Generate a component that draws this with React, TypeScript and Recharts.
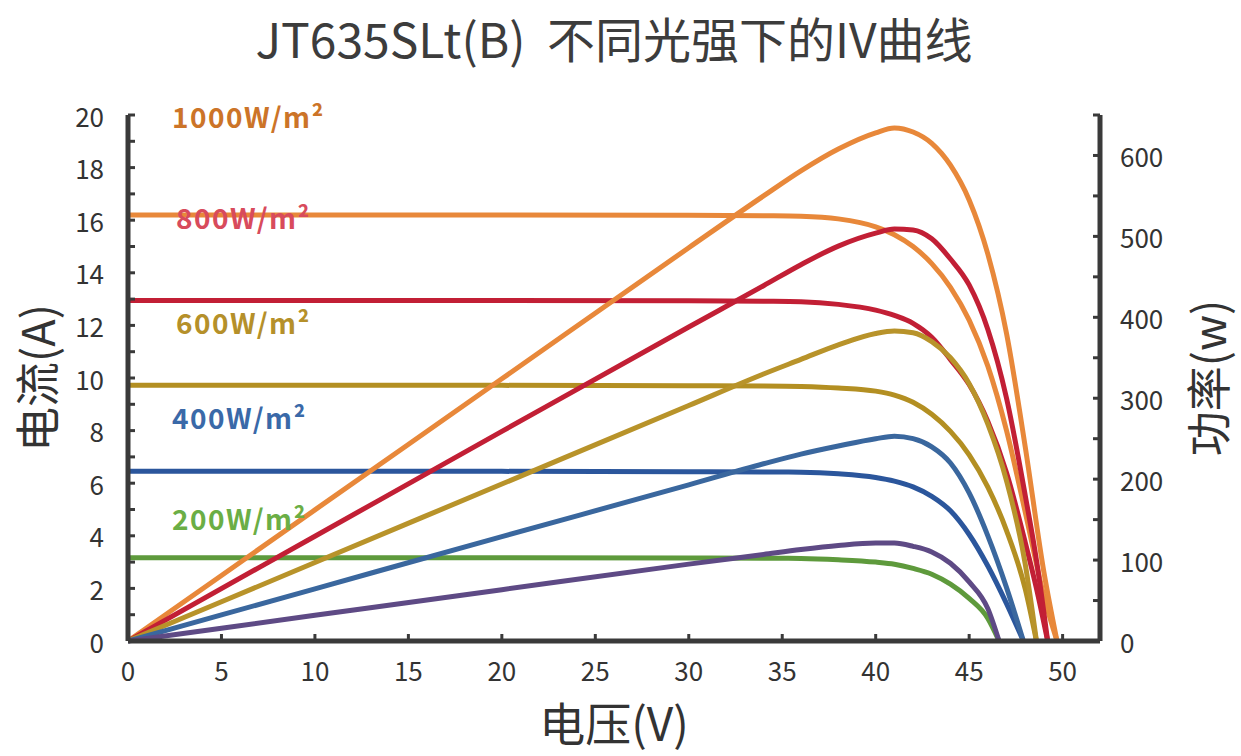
import React from "react";
import { LineChart, Line, XAxis, YAxis } from "recharts";

// voltage (V), current (A), power (W), one set per irradiance
const volts1000 = [0, 10, 20, 30, 34, 36, 38, 40, 41, 42, 43, 44, 45, 46, 47, 48, 49, 49.7];
const amps1000 = [16.2, 16.2, 16.2, 16.19, 16.17, 16.15, 16.05, 15.75, 15.45, 15.0, 14.35, 13.45, 12.2, 10.45, 8.0, 4.9, 1.7, 0];
const watts1000 = [0, 162, 324, 486, 550, 581, 608, 628, 634, 629, 615, 588, 545, 478, 380, 240, 85, 0];

const volts800 = [0, 10, 20, 30, 34, 36, 38, 40, 41, 42, 43, 44, 45, 46, 47, 48, 48.6, 49.2];
const amps800 = [12.95, 12.95, 12.95, 12.94, 12.92, 12.9, 12.8, 12.58, 12.38, 12.08, 11.55, 10.7, 9.75, 8.35, 6.4, 3.75, 2.0, 0];
const watts800 = [0, 129.5, 259, 388, 439, 465, 488, 504, 509, 508, 497, 472, 440, 385, 300, 180, 100, 0];

const volts600 = [0, 10, 20, 30, 34, 36, 38, 40, 41, 42, 43, 44, 45, 46, 47, 48, 48.6];
const amps600 = [9.72, 9.72, 9.72, 9.71, 9.7, 9.68, 9.62, 9.5, 9.35, 9.08, 8.62, 7.97, 7.08, 5.85, 4.2, 1.98, 0];
const watts600 = [0, 97, 194, 291, 330, 348, 366, 380, 383, 381, 370, 350, 318, 268, 198, 95, 0];

const volts400 = [0, 10, 20, 30, 34, 36, 38, 40, 41, 42, 43, 44, 45, 46, 47, 47.9];
const amps400 = [6.45, 6.45, 6.45, 6.44, 6.43, 6.42, 6.36, 6.22, 6.08, 5.86, 5.5, 4.95, 4.05, 2.85, 1.42, 0];
const watts400 = [0, 64.5, 129, 193, 219, 231, 241, 250, 253, 250, 240, 220, 183, 130, 66, 0];

const volts200 = [0, 10, 20, 30, 34, 36, 38, 40, 41, 42, 43, 44, 45, 46, 46.6];
const amps200 = [3.17, 3.17, 3.17, 3.16, 3.15, 3.14, 3.09, 3.0, 2.92, 2.76, 2.54, 2.16, 1.62, 0.86, 0];
const watts200 = [0, 31.7, 63.4, 95, 107, 113, 118, 121, 121, 117, 110, 96, 73, 40, 0];

const irradianceLabels = ["1000W/m²", "800W/m²", "600W/m²", "400W/m²", "200W/m²"];
const xTicks = [0, 5, 10, 15, 20, 25, 30, 35, 40, 45, 50];
const currentTicks = Array.from({ length: 21 }, (_, k) => k);
const powerTicks = Array.from({ length: 14 }, (_, k) => k * 50);

const AXIS = "#3a3a3a";
const FONT = "'Noto Sans CJK SC', 'Noto Sans', sans-serif";

const series = [
  { v: volts1000, i: amps1000, p: watts1000, iv: "#E8883A", pw: "#E8883A", text: "#CC7428", lx: 172, ly: 116 },
  { v: volts800, i: amps800, p: watts800, iv: "#C21F35", pw: "#C21F35", text: "#D84B5C", lx: 176, ly: 217 },
  { v: volts600, i: amps600, p: watts600, iv: "#B38F22", pw: "#B8932A", text: "#B5902A", lx: 176, ly: 322 },
  { v: volts400, i: amps400, p: watts400, iv: "#2B569C", pw: "#3A679E", text: "#3A69A8", lx: 172, ly: 417 },
  { v: volts200, i: amps200, p: watts200, iv: "#5E9A3C", pw: "#5E4A85", text: "#6BAE45", lx: 172, ly: 518 },
].map((s, k) => ({
  ...s,
  label: irradianceLabels[k],
  rows: s.v.map((v, j) => ({ v, i: s.i[j], p: s.p[j] })),
}));

const tickText = { fontFamily: FONT, fontSize: 26, fill: "#333" };

const LeftTick = (props: any) => {
  const { x, y, payload } = props;
  return (
    <g>
      <line x1={x} x2={x + 7} y1={y} y2={y} stroke={AXIS} strokeWidth={3} />
      {payload.value % 2 === 0 && (
        <text x={x - 24} y={y} textAnchor="end" dominantBaseline="central" {...tickText}>
          {payload.value}
        </text>
      )}
    </g>
  );
};

const RightTick = (props: any) => {
  const { x, y, payload } = props;
  return (
    <g>
      <line x1={x} x2={x - 7} y1={y} y2={y} stroke={AXIS} strokeWidth={3} />
      {payload.value % 100 === 0 && (
        <text x={x + 20} y={y} textAnchor="start" dominantBaseline="central" {...tickText}>
          {payload.value}
        </text>
      )}
    </g>
  );
};

const BottomTick = (props: any) => {
  const { x, y, payload } = props;
  return (
    <g>
      <line x1={x} x2={x} y1={y} y2={y - 7} stroke={AXIS} strokeWidth={3} />
      <text x={x} y={y + 28} textAnchor="middle" dominantBaseline="central" {...tickText}>
        {payload.value}
      </text>
    </g>
  );
};

export default function App() {
  return (
    <div style={{ position: "absolute", left: 0, top: 0, width: 1241, height: 756, background: "#fff" }}>
      <LineChart width={1241} height={756} margin={{ top: 115, right: 81, bottom: 75, left: 68 }}>
        <XAxis
          dataKey="v"
          type="number"
          domain={[0, 52]}
          ticks={xTicks}
          allowDataOverflow
          height={40}
          tickLine={false}
          tickSize={0}
          tickMargin={0}
          axisLine={{ stroke: AXIS, strokeWidth: 5 }}
          tick={<BottomTick />}
        />
        <YAxis
          yAxisId="I"
          orientation="left"
          type="number"
          domain={[0, 20]}
          ticks={currentTicks}
          interval={0}
          width={60}
          tickLine={false}
          tickSize={0}
          tickMargin={0}
          axisLine={{ stroke: AXIS, strokeWidth: 5 }}
          tick={<LeftTick />}
        />
        <YAxis
          yAxisId="P"
          orientation="right"
          type="number"
          domain={[0, 650]}
          ticks={powerTicks}
          interval={0}
          width={60}
          tickLine={false}
          tickSize={0}
          tickMargin={0}
          axisLine={{ stroke: AXIS, strokeWidth: 5 }}
          tick={<RightTick />}
        />
        {series.map((s) => (
          <Line
            key={`iv-${s.label}`}
            data={s.rows}
            dataKey="i"
            yAxisId="I"
            type="monotone"
            stroke={s.iv}
            strokeWidth={5}
            dot={false}
            activeDot={false}
            isAnimationActive={false}
          />
        ))}
        {series.map((s) => (
          <Line
            key={`pw-${s.label}`}
            data={s.rows}
            dataKey="p"
            yAxisId="P"
            type="monotone"
            stroke={s.pw}
            strokeWidth={5}
            dot={false}
            activeDot={false}
            isAnimationActive={false}
          />
        ))}
      </LineChart>

      {/* titles and irradiance labels */}
      <svg
        width={1241}
        height={756}
        style={{ position: "absolute", left: 0, top: 0, pointerEvents: "none" }}
        fontFamily={FONT}
      >
        <text x={614} y={37} textAnchor="middle" dominantBaseline="central" fontSize={48} fill="#3c3c3c">
          {"JT635SLt(B)\u00a0\u00a0不同光强下的IV曲线"}
        </text>
        <text x={614} y={721} textAnchor="middle" dominantBaseline="central" fontSize={46} fill="#333">
          电压(V)
        </text>
        <text
          x={35}
          y={378}
          textAnchor="middle"
          dominantBaseline="central"
          fontSize={45}
          fill="#333"
          transform="rotate(-90 35 378)"
        >
          电流(A)
        </text>
        <text
          x={1206}
          y={378}
          textAnchor="middle"
          dominantBaseline="central"
          fontSize={45}
          fill="#333"
          transform="rotate(-90 1206 378)"
        >
          功率(w)
        </text>
        {series.map((s) => (
          <text
            key={`lbl-${s.label}`}
            x={s.lx}
            y={s.ly}
            dominantBaseline="central"
            fontSize={28}
            fontWeight={700}
            letterSpacing={1.5}
            fill={s.text}
          >
            {s.label}
          </text>
        ))}
      </svg>
    </div>
  );
}
